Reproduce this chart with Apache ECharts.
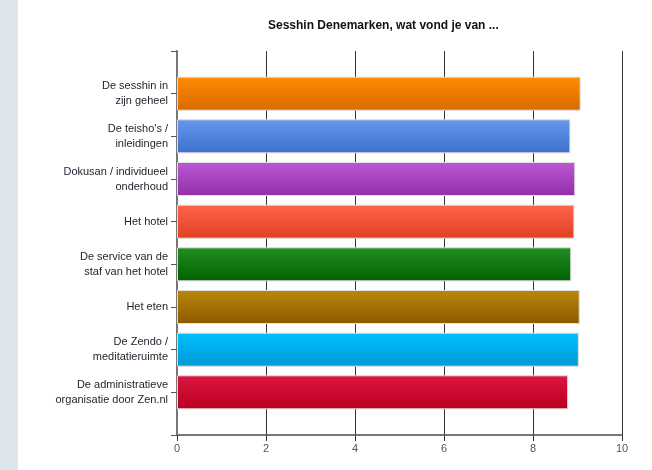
<!DOCTYPE html>
<html>
<head>
<meta charset="utf-8">
<script src="https://cdn.jsdelivr.net/npm/echarts@6/dist/echarts.min.js"></script>
<style>
  html, body { margin: 0; padding: 0; background: #fff; }
  #root1 { width: 652px; height: 470px; }
</style>
</head>
<body>
<div id="root1"></div>
<script>
const categories = [
  'De sesshin in\nzijn geheel',
  'De teisho\'s /\ninleidingen',
  'Dokusan / individueel\nonderhoud',
  'Het hotel',
  'De service van de\nstaf van het hotel',
  'Het eten',
  'De Zendo /\nmeditatieruimte',
  'De administratieve\norganisatie door Zen.nl'
];
const scores = [9.07, 8.84, 8.95, 8.93, 8.86, 9.05, 9.03, 8.79];
const xTicks = [0, 2, 4, 6, 8, 10];

// top / bottom gradient per bar
const barColors = [
  ['#ff8d00', '#d96900'],
  ['#6596eb', '#3c72cc'],
  ['#bb58d4', '#932fa8'],
  ['#ff6448', '#de4126'],
  ['#238d23', '#006200'],
  ['#b88709', '#8c5a00'],
  ['#00c0ff', '#0098d6'],
  ['#de1640', '#b70020']
];

const chartDom = document.getElementById('root1');
const myChart = echarts.init(chartDom);

// empty slot at each end so the bars sit one step in from the axis ends
const yCats = [''].concat(categories, ['']);
const barData = [null].concat(scores.map((v, i) => ({
  value: v,
  itemStyle: {
    color: new echarts.graphic.LinearGradient(0, 0, 0, 1, [
      { offset: 0, color: barColors[i][0] },
      { offset: 1, color: barColors[i][1] }
    ]),
    borderColor: '#dedede',
    borderWidth: 1
  }
})), [null]);

const option = {
  animation: false,
  backgroundColor: '#fff',
  graphic: [{
    type: 'rect',
    shape: { x: 0, y: 0, width: 18, height: 470 },
    style: { fill: '#dce6ec' },
    z: -10
  }],
  title: {
    text: 'Sesshin Denemarken, wat vond je van ...',
    left: 263,
    top: 15,
    textStyle: {
      fontFamily: 'Liberation Sans, Arial, sans-serif',
      fontSize: 12,
      fontWeight: 'bold',
      color: '#111'
    }
  },
  grid: {
    left: 177,
    right: 30,
    top: 51,
    bottom: 35
  },
  xAxis: {
    type: 'value',
    min: xTicks[0],
    max: xTicks[xTicks.length - 1],
    interval: 2,
    axisLine: { show: true, lineStyle: { color: '#777', width: 2 } },
    axisTick: { show: true, length: 6, lineStyle: { color: '#333' } },
    axisLabel: {
      margin: 8,
      color: '#555',
      fontFamily: 'Liberation Sans, Arial, sans-serif',
      fontSize: 11
    },
    splitLine: { show: true, lineStyle: { color: '#333', width: 1 } }
  },
  yAxis: {
    type: 'category',
    data: yCats,
    inverse: true,
    boundaryGap: false,
    axisLine: { show: true, lineStyle: { color: '#777', width: 2 } },
    axisTick: { show: true, length: 6, interval: 0, lineStyle: { color: '#555' } },
    axisLabel: {
      interval: 0,
      margin: 9,
      color: '#2a2230',
      fontFamily: 'Liberation Sans, Arial, sans-serif',
      fontSize: 11,
      lineHeight: 15,
      align: 'right'
    },
    splitLine: { show: false }
  },
  series: [{
    type: 'bar',
    data: barData,
    barWidth: 34
  }]
};

myChart.setOption(option);
</script>
</body>
</html>
